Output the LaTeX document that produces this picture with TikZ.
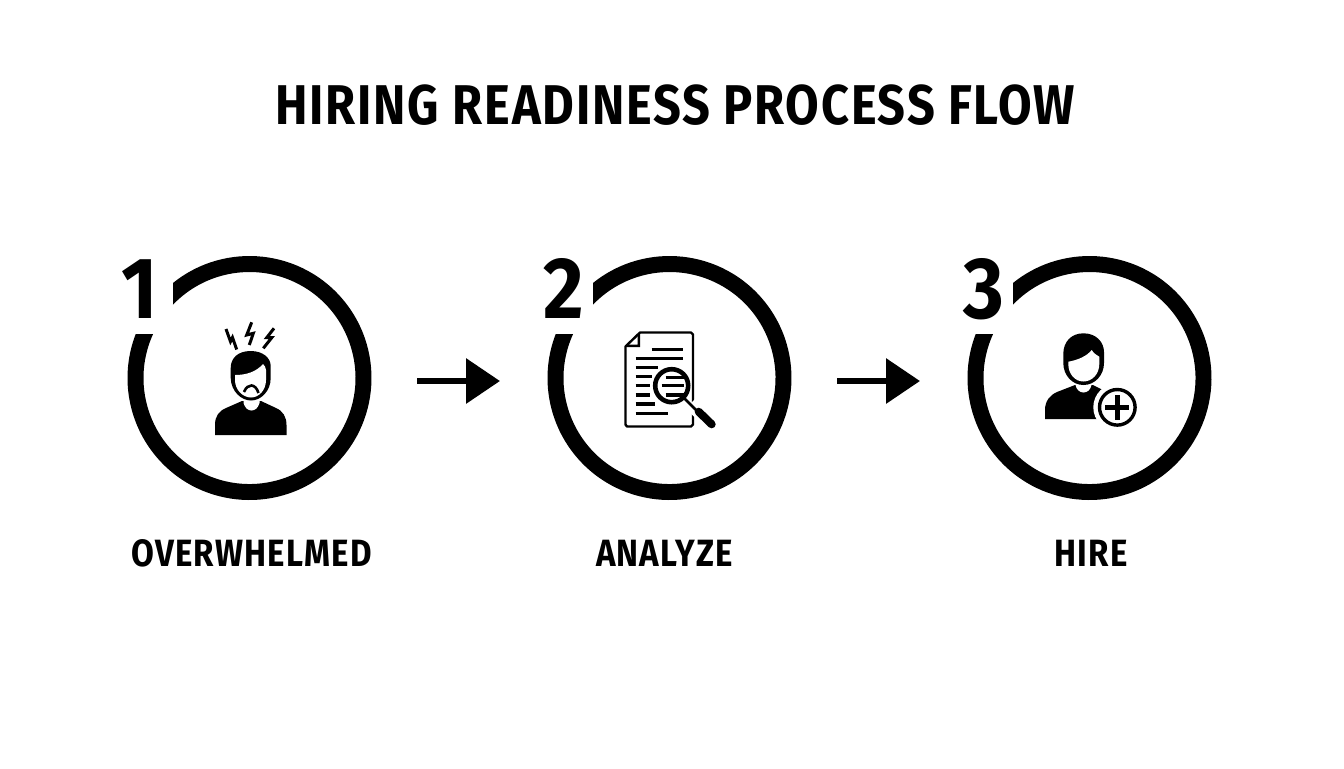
\documentclass[tikz,border=0pt]{standalone}
\usepackage{fontspec}
\usetikzlibrary{arrows.meta}
\setmainfont{Fira Sans}[BoldFont={* Bold}]
\newfontfamily\headfont{Fira Sans}[UprightFont={* Bold},FakeStretch=0.87,LetterSpace=3.2]
\newfontfamily\numfont{Fira Sans}[UprightFont={* Bold},FakeStretch=0.9]
\tikzset{
  ringshape/.style={fill=black,draw=none},
  flow/.style={line width=3.25pt,-{Triangle[length=17pt,width=22pt]}},
  titletext/.style={inner sep=0pt,anchor=base,font=\headfont\fontsize{28}{30}\selectfont},
  labeltext/.style={inner sep=0pt,anchor=base,font=\headfont\fontsize{19}{20}\selectfont},
  numtext/.style={inner sep=0pt,anchor=base,font=\numfont\fontsize{43.5}{46}\selectfont},
  bolt/.style={line width=1.5pt,miter limit=10},
  docline/.style={line width=1.6pt},
  thinline/.style={line width=1.2pt,line cap=round,line join=round}
}
\newcommand{\ringat}[1]{%
  \fill[ringshape,shift={(#1,378)}]
    (231.2:122) arc[start angle=231.2,end angle=561.1,radius=122]
    -- (564.5:106) arc[start angle=564.5,end angle=223.8,radius=106] -- cycle;}
\begin{document}
\begin{tikzpicture}[x=.5pt,y=.5pt,yscale=-1]
\useasboundingbox (0,0) rectangle (1344,768);
\node[titletext] (title) at (675.5,124) {HIRING READINESS PROCESS FLOW};

% rings
\ringat{249.5}
\ringat{669.5}
\ringat{1089.5}
\node[numtext] (n1) at (140,318) {1};
\node[numtext] (n2) at (563.5,318) {2};
\node[numtext] (n3) at (984,318) {3};
\node[labeltext] (l1) at (251.5,566.5) {OVERWHELMED};
\node[labeltext] (l2) at (664.5,566.5) {ANALYZE};
\node[labeltext] (l3) at (1091,566.5) {HIRE};

% arrows
\coordinate (a1s) at (417,381);
\coordinate (a1e) at (500,381);
\coordinate (a2s) at (837,381);
\coordinate (a2e) at (920,381);
\draw[flow] (a1s) -- (a1e);
\draw[flow] (a2s) -- (a2e);

% icon 1: stressed person
\fill (215,435) -- (215,425) .. controls (215,416) and (219,411) .. (226,408)
  -- (242,401) -- (261,401) -- (276,408) .. controls (283,411) and (286.5,417) .. (286.5,425)
  -- (286.5,435) -- cycle;
\fill[white] (243.5,397) -- (243.5,403) .. controls (245,408) and (248,410.5) .. (251.5,410.5)
  .. controls (255,410.5) and (258,408) .. (259.5,403) -- (259.5,397) -- cycle;
\fill (250.7,351) .. controls (238,351) and (230.7,358) .. (230.7,368) -- (230.7,378)
  .. controls (231,391) and (241,400.5) .. (251,400.5) .. controls (261,400.5) and (270.7,391) .. (270.7,378)
  -- (270.7,366) .. controls (270.7,358) and (263,351) .. (250.7,351) -- cycle;
\fill[white] (235,375) .. controls (246,375) and (256,372) .. (263,364) .. controls (264.5,366) and (266,367) .. (266,370)
  -- (266,380) .. controls (266,390) and (259,397.5) .. (251,397.5) .. controls (243,397.5) and (235,390) .. (235,380) -- cycle;
\draw[line width=1.3pt] (244,392) .. controls (246,387) and (249,385.5) .. (251.5,385.5) .. controls (254,385.5) and (257,388) .. (258.5,393);
\draw[bolt] (226,329) -- (230.5,341.5) -- (232.5,337.5) -- (236.7,349.5);
\draw[bolt] (251.7,322.3) -- (246.7,335) -- (253.3,333.3) -- (249.3,345);
\draw[bolt] (274,328.3) -- (266.7,337.7) -- (271.7,337.7) -- (263.3,348.3);

% icon 2: document and magnifier
\draw[docline] (651.7,349.3) -- (683.3,349.3);
\draw[docline] (635.7,358.3) -- (683.3,358.3);
\draw[docline] (635.7,367.3) -- (658,367.3);
\draw[docline] (635.7,376.7) -- (652,376.7);
\draw[docline] (635.7,385.7) -- (650,385.7);
\draw[docline] (635.7,395) -- (650,395);
\draw[docline] (635.7,404) -- (655,404);
\draw[docline] (635.7,413.3) -- (668,413.3);
\draw[thinline] (640,332.5) -- (691,332.5) -- (693,334.5) -- (693,424.5) -- (691,426.5) -- (627,426.5) -- (625.5,424.5) -- (625.5,346.5) -- cycle;
\fill (640,332.5) -- (640,347) -- (625.5,347) -- (627.5,344.5) -- (637.5,344.5) -- (637.5,335) -- cycle;
\draw[white,line width=7pt] (690.7,403.3) -- (711.7,424.3);
\fill[white] (671.7,385.7) circle[radius=16];
\draw[line width=2.3pt] (671.7,385.7) circle[radius=16.5];
\draw[docline] (665.7,377.3) -- (684,377.3);
\draw[docline] (661.7,385.7) -- (684,385.7);
\draw[docline] (665.7,395) -- (684,395);
\draw[line width=1.3pt] (684,398) -- (698,412);
\draw[line width=4pt,line cap=round] (698.7,411.7) -- (711.7,424.3);

% icon 3: person with plus badge
\fill (1045,419) -- (1045,410) .. controls (1045,401) and (1050,395) .. (1057,392)
  -- (1075,385) -- (1093,385) -- (1103,390) -- (1125,419) -- cycle;
\fill[white] (1075.5,381) -- (1075.5,385) .. controls (1076.5,390) and (1080,392.5) .. (1083.5,392.5)
  .. controls (1087,392.5) and (1090.5,390) .. (1091.5,385) -- (1091.5,381) -- cycle;
\fill (1083.5,333.3) .. controls (1071,333.3) and (1063.3,342) .. (1063.3,354) -- (1063.3,363)
  .. controls (1063.3,375) and (1072,385) .. (1083.5,385) .. controls (1095,385) and (1104,375) .. (1104,363)
  -- (1104,352) .. controls (1104,342) and (1096,333.3) .. (1083.5,333.3) -- cycle;
\fill[white] (1068.3,361.7) .. controls (1078,360) and (1087,356) .. (1091.7,350) .. controls (1094,354) and (1097,355) .. (1099.3,356.7)
  -- (1099.3,364) .. controls (1099.3,374) and (1092,381.5) .. (1083.5,381.5) .. controls (1075,381.5) and (1068.3,374) .. (1068.3,364) -- cycle;
\fill[white] (1117.3,407.3) circle[radius=24];
\draw[line width=1.7pt] (1117.3,407.3) circle[radius=17.8];
\draw[line width=2.5pt] (1105,407.3) -- (1129,407.3);
\draw[line width=2.5pt] (1117.3,395) -- (1117.3,419.5);
\end{tikzpicture}
\end{document}
